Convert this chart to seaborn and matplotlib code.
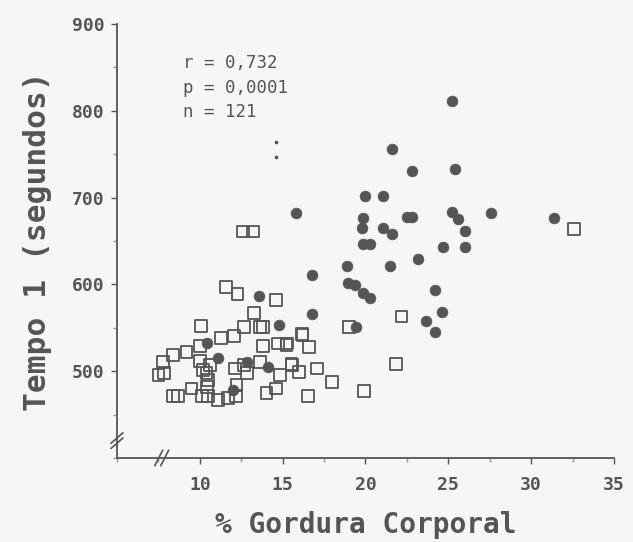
import matplotlib
matplotlib.use("Agg")
import matplotlib.pyplot as plt
from matplotlib.ticker import MultipleLocator, FixedLocator
import seaborn as sns
import pandas as pd

# filled circles
circ_x = [15.78, 25.2, 21.58, 22.78, 25.43, 20.0, 21.07, 19.87, 19.77, 21.07,
          21.57, 22.5, 22.8, 25.2, 25.6, 26.0, 27.6, 31.4, 19.87, 20.27,
          24.7, 26.0, 23.18, 18.9, 21.5, 16.78, 18.95, 19.36, 19.86, 20.27,
          24.2, 24.6, 23.65, 24.2, 16.78, 19.4, 13.59, 14.8, 10.41, 11.1,
          12.82, 14.13, 12.0]
circ_y = [682, 811, 756, 731, 733, 702, 702, 677, 665, 665,
          658, 678, 678, 683, 675, 662, 682, 677, 647, 647,
          643, 643, 629, 621, 621, 611, 602, 599, 590, 584,
          594, 568, 558, 545, 566, 551, 587, 553, 532, 515,
          511, 505, 478]

# open squares
sq_x = [12.62, 13.23, 11.56, 12.28, 14.58, 13.27, 10.05, 12.66, 13.63, 13.83,
        16.15, 16.6, 13.83, 14.74, 15.24, 12.08, 11.28, 10.0, 9.2, 8.36,
        7.8, 7.5, 7.85, 10.0, 10.6, 10.4, 12.12, 12.68, 13.63, 15.54,
        16.0, 17.05, 18.0, 16.55, 14.84, 14.03, 14.58, 12.83, 12.22, 12.18,
        11.72, 11.11, 10.51, 10.11, 9.5, 8.7, 8.4, 10.41, 10.2, 10.5,
        22.17, 21.84, 19.9, 19.0, 16.2, 15.23, 15.55, 32.6]
sq_y = [661, 661, 597, 589, 582, 567, 552, 551, 551, 551,
        543, 528, 529, 532, 532, 541, 538, 529, 522, 519,
        511, 496, 498, 512, 507, 498, 503, 507, 511, 508,
        499, 503, 488, 471, 496, 475, 480, 498, 484, 471,
        469, 467, 471, 471, 480, 471, 471, 482, 501, 490,
        563, 508, 477, 551, 542, 530, 507, 664]

# two tiny dots
dot_x = [14.58, 14.58]
dot_y = [764, 747]

stats_lines = ["r = 0,732", "p = 0,0001", "n = 121"]
x_ticks = [10, 15, 20, 25, 30, 35]
y_ticks = [500, 600, 700, 800, 900]

ink = "#555555"
bg = "#f6f6f6"

sns.set_theme(style="ticks")
plt.rcParams['font.family'] = ['DejaVu Sans Mono', 'DejaVu Sans']

fig = plt.figure(figsize=(6.33, 5.42), dpi=100, facecolor=bg)
ax = fig.add_axes([0.1848, 0.155, 0.7852, 0.8007])
ax.set_facecolor(bg)

circles = pd.DataFrame({"gordura": circ_x, "tempo": circ_y})
squares = pd.DataFrame({"gordura": sq_x, "tempo": sq_y})
dots = pd.DataFrame({"gordura": dot_x, "tempo": dot_y})

sns.scatterplot(data=squares, x="gordura", y="tempo", ax=ax, marker="s", s=72,
                facecolor="none", edgecolor=ink, linewidth=1.3, zorder=3)
sns.scatterplot(data=circles, x="gordura", y="tempo", ax=ax, marker="o", s=60,
                color=ink, edgecolor=ink, linewidth=0.5, zorder=4)
sns.scatterplot(data=dots, x="gordura", y="tempo", ax=ax, marker="o", s=7,
                color=ink, edgecolor=ink, linewidth=0, zorder=4)

ax.set_xlim(5, 35)
ax.set_ylim(400, 900)
ax.xaxis.set_major_locator(FixedLocator(x_ticks))
ax.xaxis.set_minor_locator(MultipleLocator(2.5))
ax.yaxis.set_major_locator(FixedLocator(y_ticks))
ax.yaxis.set_minor_locator(MultipleLocator(50))

for s in ["top", "right"]:
    ax.spines[s].set_visible(False)
for s in ["left", "bottom"]:
    ax.spines[s].set_color(ink)
    ax.spines[s].set_linewidth(1.3)

ax.tick_params(axis="both", which="major", length=4, width=1, color=ink,
               labelcolor=ink, labelsize=13)
ax.tick_params(axis="both", which="minor", length=3, width=1, color="#999999")
ax.tick_params(axis="x", which="major", pad=9)
ax.tick_params(axis="y", which="major", pad=5)
for lab in ax.get_xticklabels() + ax.get_yticklabels():
    lab.set_fontweight("bold")

ax.set_xlabel("% Gordura Corporal", fontsize=20, fontweight="bold", color=ink, labelpad=12)
ax.set_ylabel("Tempo 1 (segundos)", fontsize=22.5, fontweight="bold", color=ink, labelpad=14)

ax.text(0.133, 0.93, "\n".join(stats_lines), transform=ax.transAxes, fontsize=12.5,
        color=ink, va="top", ha="left", linespacing=1.45)

# axis break marks
for bx, by, dx, dy in [(0.0, 0.04, 0.012, 0.012), (0.09, 0.0, 0.008, 0.018)]:
    for off in (-0.006, 0.006):
        if bx == 0.0:
            xs = [bx - dx, bx + dx]
            ys = [by + off - dy, by + off + dy]
        else:
            xs = [bx + off - dx, bx + off + dx]
            ys = [by - dy, by + dy]
        ax.plot(xs, ys, transform=ax.transAxes, color=ink, lw=1.2, clip_on=False, zorder=5)

fig.savefig("out.png", dpi=100, facecolor=bg)
